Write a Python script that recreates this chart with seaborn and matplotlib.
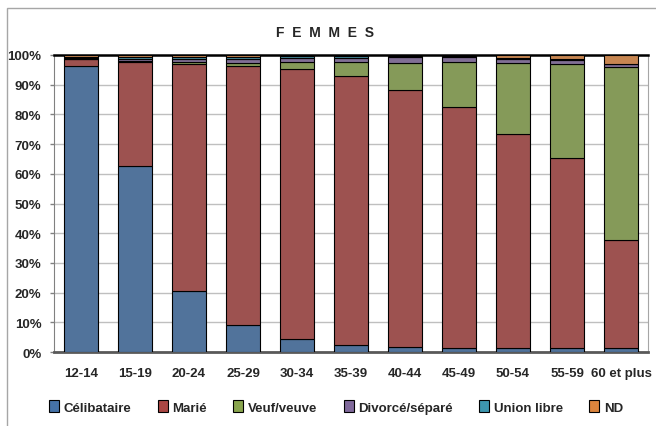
import numpy as np
import pandas as pd
import seaborn as sns
import matplotlib.pyplot as plt
from matplotlib.patches import Patch, Rectangle

# tranches d'age et repartition (%) par etat matrimonial
ages = ['12-14', '15-19', '20-24', '25-29', '30-34', '35-39',
        '40-44', '45-49', '50-54', '55-59', '60 et plus']
celibataire = [96.3, 62.7, 20.5, 9.0, 4.3, 2.5, 1.7, 1.2, 1.2, 1.2, 1.4]
marie = [2.2, 35.1, 76.5, 87.4, 91.0, 90.5, 86.4, 81.3, 72.3, 64.1, 36.3]
veuf = [0.2, 0.3, 0.5, 1.0, 2.5, 4.6, 9.3, 15.2, 23.7, 31.8, 58.2]
divorce = [0.3, 0.5, 1.2, 1.4, 1.3, 1.5, 1.8, 1.7, 1.6, 1.3, 1.0]
union = [0.4, 0.6, 0.6, 0.6, 0.4, 0.4, 0.3, 0.2, 0.2, 0.2, 0.2]
nd = [0.6, 0.8, 0.7, 0.6, 0.5, 0.5, 0.5, 0.4, 1.0, 1.4, 2.9]

series = ['Célibataire', 'Marié', 'Veuf/veuve', 'Divorcé/séparé', 'Union libre', 'ND']
values = [celibataire, marie, veuf, divorce, union, nd]
colors = ['#4572A7', '#AA4643', '#89A54E', '#80699B', '#3D96AE', '#DB843D']

df = pd.DataFrame(dict(zip(series, values)))
df['age'] = ages

sns.set_style('white')
plt.rcParams['font.family'] = ['Liberation Sans', 'DejaVu Sans']
plt.rcParams['font.weight'] = 'bold'

fig = plt.figure(figsize=(6.56, 4.27), dpi=100)
ax = fig.add_axes([54 / 656, 1 - 353 / 427, 594 / 656, 297 / 427])

# barres empilees
bottom = np.zeros(len(ages))
for name, col in zip(series, colors):
    sns.barplot(data=df, x='age', y=name, order=ages, color=col, width=0.63,
                bottom=bottom, edgecolor='black', linewidth=0.8, ax=ax, zorder=3)
    bottom += df[name].values

ax.set_ylim(0, 100)
ax.set_xlim(-0.5, len(ages) - 0.5)
ax.set_yticks(np.arange(0, 101, 10))
ax.set_yticklabels([f'{v}%' for v in range(0, 101, 10)])
ax.set_xlabel('')
ax.set_ylabel('')
ax.yaxis.grid(True, color='#BFBFBF', linewidth=1, zorder=0)
ax.set_axisbelow(True)

# petites graduations entre les categories
ax.set_xticks(np.arange(-0.5, len(ages), 1), minor=True)
ax.tick_params(axis='x', which='major', length=0, pad=11, labelsize=9.5, colors='#262626')
ax.tick_params(axis='x', which='minor', length=5, width=1, color='#808080', direction='out')
ax.tick_params(axis='y', length=3, width=1, color='#808080', pad=6, labelsize=9.5,
               colors='#262626', left=True)

for s in ['left', 'right', 'bottom', 'top']:
    ax.spines[s].set_visible(True)
ax.spines['left'].set_color('#808080')
ax.spines['right'].set_color('#A6A6A6')
ax.spines['bottom'].set_color('#595959')
ax.spines['bottom'].set_linewidth(2)
ax.spines['top'].set_color('black')
ax.spines['top'].set_linewidth(1.8)

fig.text(325 / 656, 1 - 33 / 427, 'F  E  M  M  E  S', ha='center', va='center',
         fontsize=10, fontweight='bold')

# cadre gris du graphique
fig.patches.append(Rectangle((7 / 656, -0.1), 1.2, 1 - 9 / 427 + 0.1, transform=fig.transFigure,
                             fill=False, edgecolor='#A6A6A6', linewidth=1))

handles = [Patch(facecolor=c, edgecolor='black', linewidth=0.8) for c in colors]
fig.legend(handles, series, loc='center', bbox_to_anchor=(336 / 656, 1 - 408 / 427), ncol=6,
           frameon=False, fontsize=9.5, handlelength=0.75, handleheight=1.0,
           handletextpad=0.35, columnspacing=2.0)

fig.savefig('out.png', dpi=100)
